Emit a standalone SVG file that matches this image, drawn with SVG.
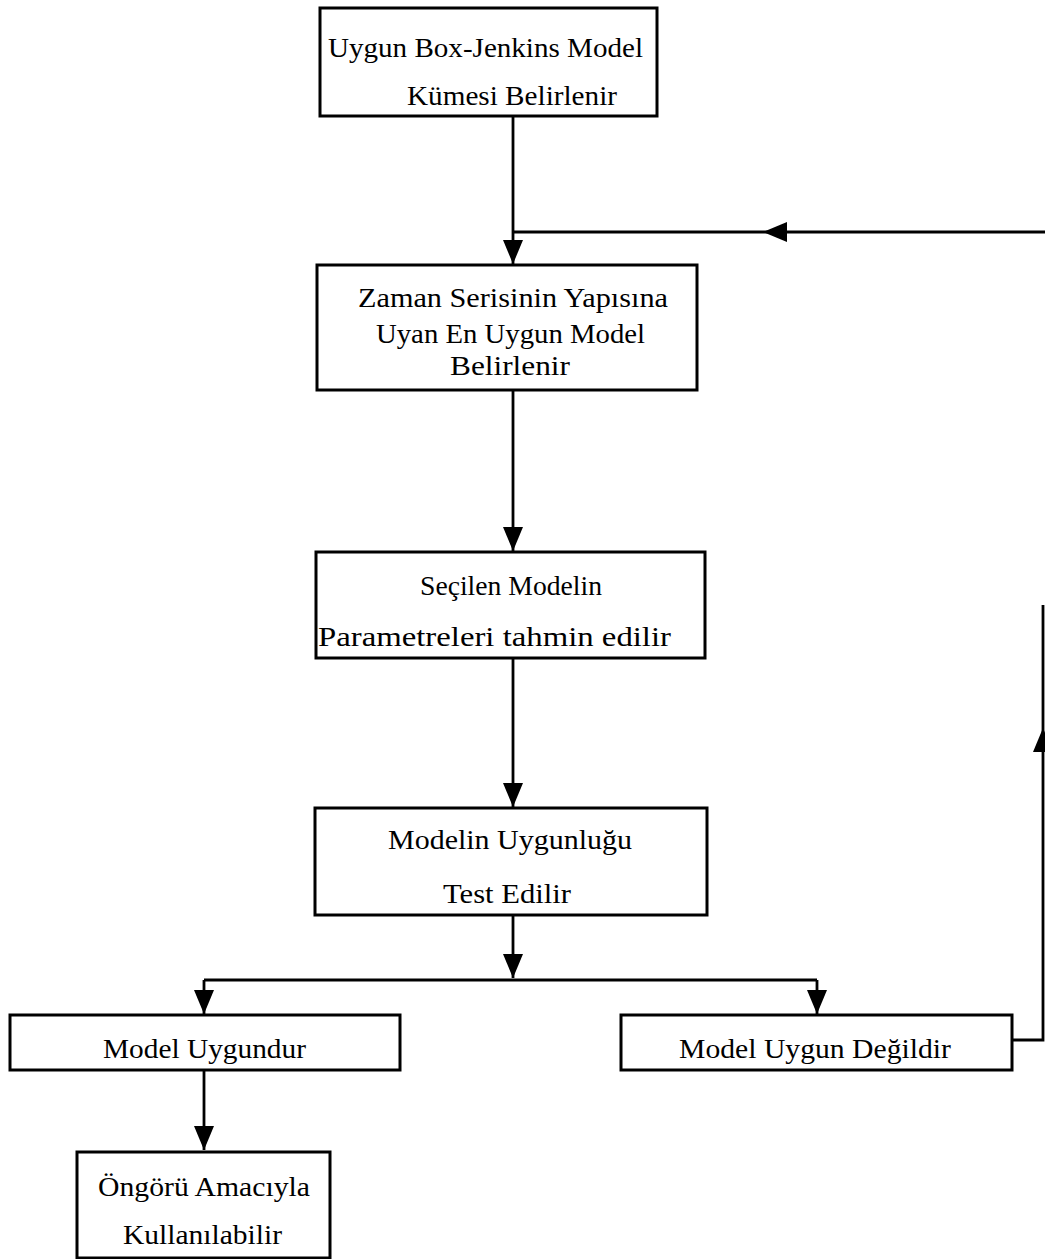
<svg xmlns="http://www.w3.org/2000/svg" width="1045" height="1259" viewBox="0 0 1045 1259">
<defs>
<style>
.box{fill:#fff;stroke:#000;stroke-width:3}
.t{font-family:"Liberation Serif","Times New Roman",serif;font-size:27px;fill:#000}
.c{fill:none;stroke:#000;stroke-width:2.8}
</style>
<marker id="ah" markerUnits="userSpaceOnUse" markerWidth="26" markerHeight="20" refX="24" refY="10" orient="auto">
<path d="M0,0 L24,10 L0,20 z" fill="#000"/>
</marker>
</defs>
<rect width="1045" height="1259" fill="#fff"/>
<g id="connectors">
<path class="c" d="M513,116 V264" marker-end="url(#ah)"/>
<path class="c" d="M1012,1040 H1043 V728" marker-end="url(#ah)"/>
<path class="c" d="M1043,728 V605"/>
<path class="c" d="M1045,232 H763" marker-end="url(#ah)"/>
<path class="c" d="M763,232 H513"/>
<path class="c" d="M513,390 V551" marker-end="url(#ah)"/>
<path class="c" d="M513,658 V807" marker-end="url(#ah)"/>
<path class="c" d="M513,915 V978" marker-end="url(#ah)"/>
<path class="c" d="M204,980 H817"/>
<path class="c" d="M204,980 V1014" marker-end="url(#ah)"/>
<path class="c" d="M817,980 V1014" marker-end="url(#ah)"/>
<path class="c" d="M204,1070 V1150" marker-end="url(#ah)"/>
</g>
<g id="n1">
<rect class="box" x="320" y="8" width="337" height="108"/>
<text class="t" x="328" y="57" textLength="315" lengthAdjust="spacingAndGlyphs">Uygun Box-Jenkins Model</text>
<text class="t" x="407" y="105" textLength="210" lengthAdjust="spacingAndGlyphs">Kümesi Belirlenir</text>
</g>
<g id="n2">
<rect class="box" x="317" y="265" width="380" height="125"/>
<text class="t" x="358" y="307" textLength="310" lengthAdjust="spacingAndGlyphs">Zaman Serisinin Yapısına</text>
<text class="t" x="376" y="343" textLength="269" lengthAdjust="spacingAndGlyphs">Uyan En Uygun Model</text>
<text class="t" x="450" y="375" textLength="120" lengthAdjust="spacingAndGlyphs">Belirlenir</text>
</g>
<g id="n3">
<rect class="box" x="316" y="552" width="389" height="106"/>
<text class="t" x="420" y="595" textLength="182" lengthAdjust="spacingAndGlyphs">Seçilen Modelin</text>
<text class="t" x="318" y="646" textLength="353" lengthAdjust="spacingAndGlyphs">Parametreleri tahmin edilir</text>
</g>
<g id="n4">
<rect class="box" x="315" y="808" width="392" height="107"/>
<text class="t" x="388" y="849" textLength="244" lengthAdjust="spacingAndGlyphs">Modelin Uygunluğu</text>
<text class="t" x="443" y="903" textLength="128" lengthAdjust="spacingAndGlyphs">Test Edilir</text>
</g>
<g id="n5">
<rect class="box" x="10" y="1015" width="390" height="55"/>
<text class="t" x="103" y="1058" textLength="203" lengthAdjust="spacingAndGlyphs">Model Uygundur</text>
</g>
<g id="n6">
<rect class="box" x="621" y="1015" width="391" height="55"/>
<text class="t" x="679" y="1058" textLength="272" lengthAdjust="spacingAndGlyphs">Model Uygun Değildir</text>
</g>
<g id="n7">
<rect class="box" x="77" y="1152" width="253" height="106"/>
<text class="t" x="98" y="1196" textLength="212" lengthAdjust="spacingAndGlyphs">Öngörü Amacıyla</text>
<text class="t" x="123" y="1244" textLength="159" lengthAdjust="spacingAndGlyphs">Kullanılabilir</text>
</g>
</svg>
